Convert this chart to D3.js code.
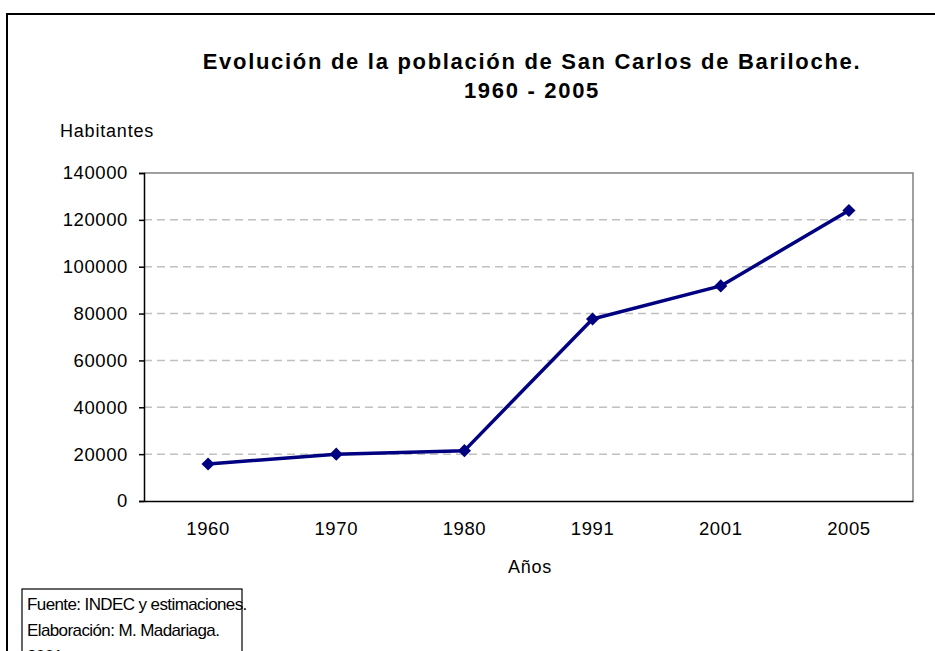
<!DOCTYPE html>
<html>
<head>
<meta charset="utf-8">
<script src="https://cdn.jsdelivr.net/npm/d3@7"></script>
<style>
  body { margin: 0; background: #fff; }
  svg { display: block; font-family: "Liberation Sans", Arial, sans-serif; }
</style>
</head>
<body>
<script>
// data
const years = ["1960", "1970", "1980", "1991", "2001", "2005"];
const population = [15800, 20000, 21500, 77700, 91800, 124000];
const yTicks = [0, 20000, 40000, 60000, 80000, 100000, 120000, 140000];
const sourceLines = ["Fuente: INDEC y estimaciones.", "Elaboración: M. Madariaga.", "2001"];

const width = 935, height = 651;
const margin = { top: 173, right: 22, bottom: 150, left: 144 };
const font = "Liberation Sans, Arial, sans-serif";

const svg = d3.select("body").append("svg")
  .attr("width", width)
  .attr("height", height);

// outer chart frame
svg.append("rect")
  .attr("x", 7)
  .attr("y", 14)
  .attr("width", width + 20)
  .attr("height", height + 20)
  .attr("fill", "none")
  .attr("stroke", "#000")
  .attr("stroke-width", 2);

const x = d3.scaleBand()
  .domain(years)
  .range([margin.left, width - margin.right]);

const y = d3.scaleLinear()
  .domain([0, 140000])
  .range([height - margin.bottom, margin.top]);

// gridlines
svg.append("g")
  .selectAll("line")
  .data(yTicks.filter(d => d > 0 && d < 140000))
  .join("line")
  .attr("x1", margin.left)
  .attr("x2", width - margin.right)
  .attr("y1", d => y(d))
  .attr("y2", d => y(d))
  .attr("stroke", "#c0c0c0")
  .attr("stroke-width", 1.5)
  .attr("stroke-dasharray", "8,5");

// plot area top / right border
svg.append("path")
  .attr("d", `M${margin.left},${y(140000)}H${width - margin.right}V${y(0)}`)
  .attr("fill", "none")
  .attr("stroke", "#808080")
  .attr("stroke-width", 1.5);

// y axis
const yAxis = svg.append("g")
  .attr("transform", `translate(${margin.left},0)`)
  .call(d3.axisLeft(y).tickValues(yTicks).tickSize(5).tickPadding(11).tickFormat(d3.format("d")));
yAxis.select(".domain").attr("stroke", "#000").attr("stroke-width", 1.5);
yAxis.selectAll(".tick line").attr("stroke", "#000").attr("stroke-width", 1.5);
yAxis.selectAll("text")
  .attr("font-size", 18.5)
  .attr("letter-spacing", "0.6px")
  .attr("fill", "#000")
  .attr("font-family", font);

// x axis
const xAxis = svg.append("g")
  .attr("transform", `translate(0,${y(0)})`)
  .call(d3.axisBottom(x).tickSize(0).tickPadding(21));
xAxis.select(".domain").attr("stroke", "#000").attr("stroke-width", 1.5);
xAxis.selectAll("text")
  .attr("font-size", 18.5)
  .attr("letter-spacing", "0.6px")
  .attr("fill", "#000")
  .attr("font-family", font);

// line
const line = d3.line()
  .x((d, i) => x(years[i]) + x.bandwidth() / 2)
  .y(d => y(d));

svg.append("path")
  .datum(population)
  .attr("d", line)
  .attr("fill", "none")
  .attr("stroke", "#000080")
  .attr("stroke-width", 3.5)
  .attr("stroke-linejoin", "round");

svg.append("g")
  .selectAll("path")
  .data(population)
  .join("path")
  .attr("d", d3.symbol(d3.symbolDiamond2, 110))
  .attr("transform", (d, i) => `translate(${x(years[i]) + x.bandwidth() / 2},${y(d)})`)
  .attr("fill", "#000080");

// titles
svg.append("text")
  .attr("x", 532)
  .attr("y", 69)
  .attr("text-anchor", "middle")
  .attr("font-size", 22)
  .attr("letter-spacing", "1.7px")
  .attr("font-weight", "bold")
  .text("Evolución de la población de San Carlos de Bariloche.");

svg.append("text")
  .attr("x", 532)
  .attr("y", 98)
  .attr("text-anchor", "middle")
  .attr("font-size", 22)
  .attr("letter-spacing", "1.7px")
  .attr("font-weight", "bold")
  .text("1960 - 2005");

svg.append("text")
  .attr("x", 60)
  .attr("y", 137)
  .attr("font-size", 18)
  .attr("letter-spacing", "0.8px")
  .text("Habitantes");

svg.append("text")
  .attr("x", 530)
  .attr("y", 573)
  .attr("text-anchor", "middle")
  .attr("font-size", 18)
  .attr("letter-spacing", "0.8px")
  .text("Años");

// source box
svg.append("rect")
  .attr("x", 22)
  .attr("y", 589)
  .attr("width", 220)
  .attr("height", 100)
  .attr("fill", "#fff")
  .attr("stroke", "#000")
  .attr("stroke-width", 1.2);

svg.append("g")
  .selectAll("text")
  .data(sourceLines)
  .join("text")
  .attr("x", 27)
  .attr("y", (d, i) => 610 + i * 26)
  .attr("font-size", 17)
  .attr("letter-spacing", "-0.6px")
  .text(d => d);
</script>
</body>
</html>
